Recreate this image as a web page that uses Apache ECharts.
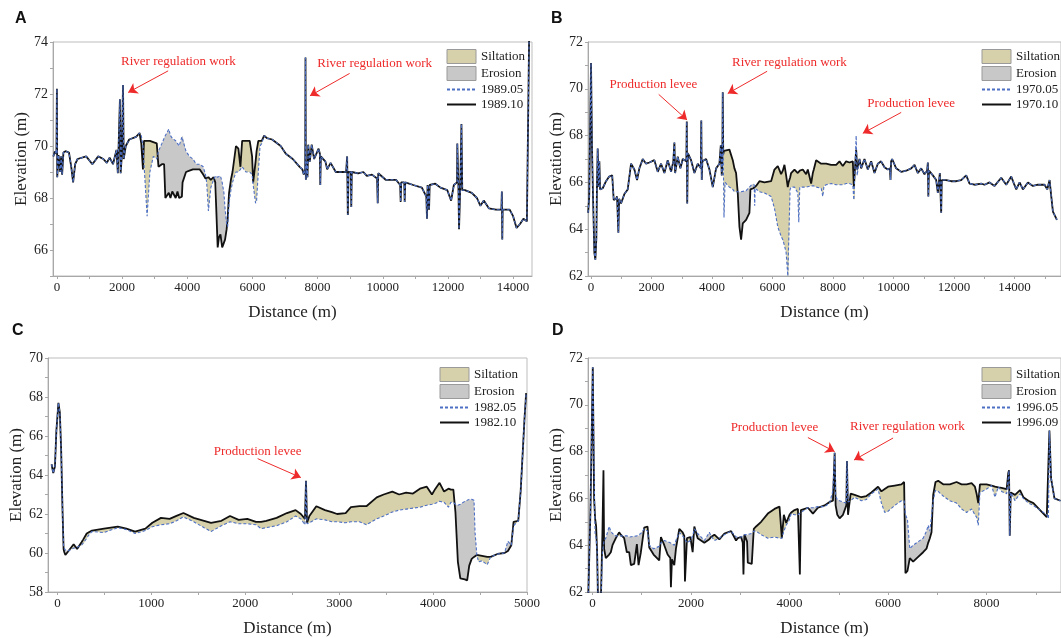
<!DOCTYPE html>
<html>
<head>
<meta charset="utf-8">
<title>Cross-section profiles</title>
<script src="https://cdn.jsdelivr.net/npm/echarts@6.0.0/dist/echarts.min.js"></script>
<style>
  html, body { margin: 0; padding: 0; background: #fff; }
  #chart { width: 1061px; height: 638px; }
</style>
</head>
<body>
<div id="chart"></div>
<script>
// ---- panel A : 1989.05 / 1989.10 ----
const distA = [
  -110,-60,-15,0,10,50,100,130,160,200,
  264,370,440,497,560,634,898,1088,1268,1426,
  1532,1617,1722,1828,1870,1934,1955,1986,2029,2050,
  2113,2219,2430,2536,2589,2641,2673,2768,2853,2958,
  3064,3117,3222,3290,3328,3434,3485,3540,3645,3700,
  3751,3835,3856,3962,4068,4174,4279,4385,4490,4560,
  4596,4649,4723,4808,4860,4892,4934,4975,5019,5072,
  5125,5160,5209,5240,5283,5340,5389,5495,5569,5632,
  5685,5800,5917,5990,6023,6097,6128,6181,6234,6287,
  6360,6445,6604,6868,7026,7238,7449,7533,7576,7620,
  7629,7640,7665,7690,7713,7760,7819,7893,8030,8070,
  8083,8100,8241,8294,8400,8558,8875,8907,8928,8950,
  9020,9034,9050,9245,9404,9510,9668,9826,9845,9862,
  10090,10407,10534,10550,10565,10660,10672,10690,10936,11200,
  11337,11358,11375,11421,11440,11612,11770,11981,12098,12182,
  12280,12288,12320,12341,12380,12415,12440,12520,12732,12890,
  12996,13101,13260,13472,13640,13655,13668,13680,13894,14000,
  14106,14212,14317,14423,14480,14500,14580
]
const elevA0589 = [
  69.6,69.8,69.7,72.2,68.8,69.65,69.0,69.6,68.9,69.75,
  69.8,69.75,69.2,68.6,69.3,69.5,69.6,69.3,69.6,69.5,
  69.35,69.55,69.3,69.85,68.95,71.8,68.95,69.5,72.35,69.5,
  70.0,70.25,70.35,70.5,70.4,70.0,69.3,67.3,69.0,69.6,
  69.5,69.8,70.1,70.3,70.4,70.65,70.4,70.3,70.2,70.1,
  70.0,70.35,70.4,69.8,69.6,69.5,69.3,69.3,69.2,68.9,
  68.6,67.5,68.4,68.7,68.85,68.85,68.8,68.8,68.85,68.6,
  68.2,67.6,67.0,66.9,67.8,68.3,68.6,69.0,69.0,69.1,
  69.2,69.0,69.0,68.9,68.5,67.8,67.9,69.0,70.0,70.1,
  70.4,70.3,70.25,70.0,69.7,69.5,69.2,69.1,68.9,69.1,
  73.4,68.7,69.4,68.8,70.05,69.4,70.05,69.5,69.9,69.7,
  68.5,69.6,69.4,69.1,69.35,69.0,69.0,69.6,67.35,69.0,
  69.0,67.65,69.0,68.95,69.0,68.85,68.9,68.75,67.8,68.95,
  68.7,68.7,68.5,67.85,68.6,68.6,67.85,68.6,68.5,68.4,
  68.05,67.2,68.5,67.55,68.5,68.55,68.4,68.3,67.9,68.5,
  68.6,70.1,68.6,66.8,68.5,70.85,68.3,68.3,68.2,68.0,
  67.7,67.9,67.6,67.55,67.55,68.25,66.4,67.55,67.55,67.3,
  66.85,67.0,67.2,67.1,67.1,75,75
]
const elevA1089 = [
  69.6,69.8,69.7,72.2,68.8,69.65,69.0,69.6,68.9,69.75,
  69.8,69.75,69.2,68.6,69.3,69.5,69.6,69.3,69.6,69.5,
  69.35,69.55,69.3,69.85,68.95,71.8,68.95,69.5,72.35,69.5,
  70.0,70.25,70.35,70.5,70.1,69.1,70.2,70.2,70.2,70.15,
  70.1,69.2,69.3,69.3,68.0,68.2,68.0,68.25,68.0,68.25,
  68.0,68.05,68.6,69.0,69.05,69.1,69.1,69.1,68.9,68.75,
  68.75,68.8,68.7,68.8,68.6,68.55,66.1,66.5,66.6,66.1,
  66.15,66.4,66.8,67.2,68.2,68.7,69.0,70.0,69.9,69.2,
  70.2,70.2,70.2,69.6,68.6,69.4,69.8,70.2,70.2,70.2,
  70.4,70.3,70.25,70.0,69.7,69.5,69.2,69.1,68.9,69.1,
  73.4,68.7,69.4,68.8,70.05,69.4,70.05,69.5,69.9,69.7,
  68.5,69.6,69.4,69.1,69.35,69.0,69.0,69.6,67.35,69.0,
  69.0,67.65,69.0,68.95,69.0,68.85,68.9,68.75,67.8,68.95,
  68.7,68.7,68.5,67.85,68.6,68.6,67.85,68.6,68.5,68.4,
  68.05,67.2,68.5,67.55,68.5,68.55,68.4,68.3,67.9,68.5,
  68.6,70.1,68.6,66.8,68.5,70.85,68.3,68.3,68.2,68.0,
  67.7,67.9,67.6,67.55,67.55,68.25,66.4,67.55,67.55,67.3,
  66.85,67.0,67.2,67.1,67.1,75,75
]

// ---- panel B : 1970.05 / 1970.10 ----
const distB = [
  -95,-60,-20,0,33,66,110,143,176,198,
  220,254,276,300,386,496,600,700,750,827,
  860,904,930,992,1102,1213,1323,1433,1521,1598,
  1709,1819,1929,2094,2205,2315,2425,2535,2646,2720,
  2756,2780,2866,2954,3032,3150,3165,3180,3200,3307,
  3418,3528,3630,3645,3660,3680,3803,3914,4024,4134,
  4244,4290,4321,4340,4354,4370,4395,4430,4575,4685,
  4740,4795,4850,4906,4961,5016,5126,5236,5269,5313,
  5368,5395,5410,5425,5456,5567,5732,5953,6063,6173,
  6283,6339,6394,6449,6504,6530,6580,6614,6725,6835,
  6868,6900,7000,7110,7166,7276,7331,7364,7441,7496,
  7607,7662,7700,7772,7937,8103,8213,8268,8323,8433,
  8543,8598,8654,8687,8720,8764,8797,8874,8929,9039,
  9149,9260,9370,9480,9590,9700,9811,9880,9899,9920,
  9954,9998,10086,10252,10417,10583,10693,10803,10913,11024,
  11110,11134,11150,11170,11299,11409,11464,11530,11552,11574,
  11595,11740,11905,12071,12236,12402,12512,12677,12898,13008,
  13174,13339,13560,13725,13890,13979,14056,14166,14276,14441,
  14607,14772,14992,15080,15158,15213,15268,15400
]
const elevB7005 = [
  64.7,65.4,65.4,71.1,67.4,65.4,63.0,62.7,63.6,66.0,
  67.45,65.8,66.9,65.7,65.75,66.05,66.25,66.3,65.25,65.3,
  65.4,63.85,65.3,65.1,65.5,65.7,66.8,66.55,66.1,66.6,
  67.0,66.8,66.85,66.95,66.45,66.8,66.4,66.95,66.45,66.9,
  67.7,66.4,67.1,66.6,67.0,66.9,68.6,65.1,67.25,66.95,
  66.4,66.8,66.6,68.65,66.1,66.9,67.0,66.55,65.8,66.6,
  66.8,67.6,66.3,66.8,69.85,67.2,64.5,66.0,65.8,65.7,
  65.6,65.6,65.6,65.6,65.6,65.6,65.65,65.8,65.85,65.9,
  65.95,65.9,65.0,65.75,65.75,65.6,65.55,65.4,64.9,64.1,
  63.7,63.55,63.3,63.0,62.0,62.0,65.7,65.8,65.8,65.55,
  64.3,65.8,65.8,65.8,65.8,65.85,65.85,65.85,65.8,65.8,
  65.75,65.4,65.85,65.9,65.95,65.9,65.9,65.9,65.9,65.95,
  65.95,65.95,65.9,65.25,65.3,68.0,66.3,67.0,66.6,67.0,
  66.55,66.9,66.4,66.8,66.9,66.65,66.55,66.6,66.1,66.9,
  67.0,67.0,66.6,66.45,66.5,66.6,66.75,66.4,66.6,66.35,
  66.5,66.85,65.4,66.5,66.3,66.1,65.55,66.4,66.45,64.7,
  66.1,66.1,66.05,66.05,66.1,66.3,65.95,65.9,65.95,65.9,
  66.0,65.85,66.2,65.9,66.25,65.95,65.7,66.0,65.7,66.0,
  65.85,65.9,65.9,65.7,66.1,65.4,64.75,64.4
]
const elevB7010 = [
  64.7,65.4,65.4,71.1,67.4,65.4,63.0,62.7,63.6,66.0,
  67.45,65.8,66.9,65.7,65.75,66.05,66.25,66.3,65.25,65.3,
  65.4,63.85,65.3,65.1,65.5,65.7,66.8,66.55,66.1,66.6,
  67.0,66.8,66.85,66.95,66.45,66.8,66.4,66.95,66.45,66.9,
  67.7,66.4,67.1,66.6,67.0,66.9,68.6,65.1,67.25,66.95,
  66.4,66.8,66.6,68.65,66.1,66.9,67.0,66.55,65.8,66.6,
  66.8,67.6,66.3,66.8,69.85,67.2,67.35,67.35,67.4,66.95,
  66.6,66.4,65.55,64.1,63.55,64.25,64.4,64.7,65.7,65.7,
  65.75,65.8,65.8,65.8,65.85,66.05,66.0,66.05,66.55,66.7,
  66.35,66.5,66.75,66.3,65.8,66.0,66.2,66.4,66.55,66.4,
  66.45,66.5,66.55,66.35,66.55,65.95,66.4,66.55,66.95,66.9,
  66.8,66.8,66.8,66.8,66.75,66.75,66.9,66.8,66.7,66.9,
  66.85,66.9,66.9,65.8,66.5,67.4,66.55,67.0,66.6,67.0,
  66.55,66.9,66.4,66.8,66.9,66.65,66.55,66.6,66.1,66.9,
  67.0,67.0,66.6,66.45,66.5,66.6,66.75,66.4,66.6,66.35,
  66.5,66.85,65.4,66.5,66.3,66.1,65.55,66.4,66.45,64.7,
  66.1,66.1,66.05,66.05,66.1,66.3,65.95,65.9,65.95,65.9,
  66.0,65.85,66.2,65.9,66.25,65.95,65.7,66.0,65.7,66.0,
  65.85,65.9,65.9,65.7,66.1,65.4,64.75,64.4
]

// ---- panel C : 1982.05 / 1982.10 ----
const distC = [
  -62,-44,-26,-11,0,11,26,40,55,66,
  73,85,110,173,210,257,276,312,331,368,
  496,643,735,827,937,1011,1103,1195,1268,1342,
  1452,1562,1636,1746,1838,1930,2022,2114,2169,2224,
  2334,2444,2536,2592,2636,2647,2658,2683,2757,2849,
  2922,2978,3069,3125,3216,3290,3400,3474,3566,3639,
  3713,3786,3860,3933,3988,4025,4069,4117,4164,4190,
  4216,4238,4264,4290,4338,4363,4385,4411,4436,4447,
  4466,4484,4521,4576,4613,4686,4760,4797,4833,4857,
  4907,4933,4951,4973,4991
]
const elevC8205 = [
  64.55,64.1,64.45,66.25,66.3,67.7,67.2,65.3,62.1,60.3,
  60.2,60.15,60.1,60.25,60.3,60.4,60.45,60.75,60.9,61.1,
  61.05,61.3,61.2,61.0,61.15,61.35,61.45,61.5,61.65,61.85,
  61.6,61.3,61.1,61.4,61.6,61.5,61.5,61.45,61.25,61.3,
  61.4,61.6,61.9,61.75,61.45,63.7,61.5,61.55,61.75,61.7,
  61.6,61.6,61.55,61.6,61.6,61.45,61.75,61.9,62.1,62.2,
  62.25,62.3,62.35,62.45,62.5,62.55,62.65,62.6,62.35,62.6,
  62.6,62.5,62.45,62.5,62.65,62.7,62.75,62.75,62.7,61.05,
  59.9,59.55,59.6,59.4,59.8,59.95,60.0,60.6,60.4,61.4,
  61.65,63.2,63.25,66.85,68.2
]
const elevC8210 = [
  64.55,64.1,64.45,66.25,66.3,67.7,67.2,65.3,62.1,60.2,
  60.05,59.9,60.05,60.45,60.2,60.55,60.7,61.0,61.1,61.15,
  61.25,61.35,61.25,61.1,61.25,61.55,61.8,61.75,61.9,62.05,
  61.8,61.65,61.55,61.65,61.9,61.7,61.75,61.6,61.6,61.65,
  61.8,62.05,62.2,62.0,61.75,63.7,61.55,61.9,62.4,62.2,
  62.1,62.0,62.05,62.35,62.4,62.4,62.85,63.0,63.15,63.0,
  63.1,63.05,63.3,63.4,63.0,63.3,63.6,63.15,63.3,63.25,
  63.25,62.1,59.55,58.7,58.65,58.6,59.35,59.7,59.8,59.85,
  59.9,59.9,59.85,59.8,59.8,59.95,60.0,60.1,60.4,61.6,
  61.65,63.2,63.25,66.85,68.2
]

// ---- panel D : 1996.05 / 1996.09 ----
const distD = [
  -88,-60,-40,-20,7,34,54,75,95,115,
  170,203,224,237,271,339,373,407,475,542,
  576,644,698,746,780,848,902,936,983,1051,
  1119,1153,1241,1356,1390,1458,1526,1580,1593,1614,
  1661,1695,1763,1831,1864,1878,1919,1987,2034,2068,
  2136,2271,2373,2407,2475,2576,2678,2814,2915,2949,
  3017,3051,3065,3085,3139,3153,3234,3275,3322,3424,
  3560,3695,3797,3844,3885,3932,4000,4034,4102,4170,
  4190,4210,4231,4373,4475,4577,4712,4814,4882,4916,
  4936,4970,5017,5085,5153,5166,5187,5241,5322,5458,
  5560,5661,5797,5865,5932,6000,6136,6272,6326,6353,
  6394,6441,6509,6611,6712,6780,6814,6848,6882,6916,
  6963,7017,7119,7153,7254,7390,7492,7594,7695,7763,
  7797,7831,7865,8000,8102,8170,8238,8305,8407,8441,
  8455,8470,8490,8577,8678,8746,8848,8950,9085,9221,
  9255,9275,9309,9377,9500
]
const elevD9605 = [
  61.5,61.5,65.5,65.55,71.6,67.1,64.5,64.3,63.7,61.5,
  61.5,63.7,64.0,64.2,64.3,64.8,64.6,64.5,64.4,64.4,
  64.35,64.4,64.4,64.35,64.35,64.38,64.4,64.4,64.5,64.7,
  64.6,64.0,63.85,63.95,64.1,64.2,64.15,64.1,64.1,64.05,
  64.0,64.2,64.55,64.4,64.3,64.25,64.1,64.2,64.4,64.7,
  64.5,64.2,64.55,64.4,64.2,64.3,64.45,64.6,64.35,64.3,
  64.35,64.4,64.4,64.45,64.45,64.45,64.5,64.6,64.6,64.45,
  64.3,64.35,64.3,64.3,64.6,64.85,65.1,65.35,65.3,65.3,
  65.35,65.35,65.4,65.6,65.6,65.65,65.65,65.8,66.35,67.95,
  66.1,65.95,65.9,65.85,65.8,67.6,65.85,65.9,66.05,65.9,
  65.95,66.2,66.4,65.8,65.4,65.45,65.7,65.9,65.9,65.3,
  65.1,63.85,64.0,64.15,64.3,64.6,64.85,64.6,64.55,65.9,
  66.35,66.3,66.1,66.05,65.9,65.8,65.55,65.4,65.55,65.3,
  65.2,64.85,66.25,66.4,66.55,66.05,66.5,66.3,66.2,66.9,
  67.2,64.4,66.25,65.9,66.2,66.0,65.8,65.7,65.5,65.3,
  65.15,68.9,66.85,66.0,65.9
]
const elevD9609 = [
  61.5,61.5,65.5,65.55,71.6,66.0,65.15,64.8,63.7,61.5,
  61.5,64.55,67.2,63.85,63.45,63.6,63.7,64.0,64.3,64.55,
  64.45,64.3,63.7,63.7,63.15,63.2,64.05,63.15,63.7,64.75,
  64.8,63.9,63.6,63.35,64.35,64.0,63.6,63.45,62.2,63.4,
  63.15,63.85,64.7,64.55,64.4,62.45,64.3,64.35,63.7,64.8,
  64.3,64.1,64.25,64.35,64.45,64.25,64.5,64.6,64.2,64.3,
  64.35,64.1,62.75,64.45,64.15,63.25,63.2,64.7,64.8,65.0,
  65.35,65.55,65.65,64.3,65.3,64.95,65.3,65.4,65.5,65.55,
  65.55,62.75,65.5,65.6,65.35,65.6,65.7,65.85,65.9,67.95,
  65.7,65.3,65.15,65.3,65.7,67.6,65.3,66.2,66.15,66.05,
  66.1,66.25,66.5,66.3,66.4,66.5,66.55,66.6,66.7,62.8,
  62.9,63.45,63.3,63.5,63.7,63.85,64.1,64.3,64.55,66.15,
  66.7,66.75,66.6,66.55,66.6,66.7,66.6,66.6,66.65,66.5,
  66.2,65.8,66.6,66.6,66.55,66.5,66.47,66.45,66.4,67.1,
  67.2,64.4,66.25,66.15,66.35,66.05,65.9,65.8,65.5,65.2,
  65.15,68.9,66.85,66.0,65.9
]

// ---- axis ticks / labels ----
const xTicksA = [0,1000,2000,3000,4000,5000,6000,7000,8000,9000,10000,11000,12000,13000,14000]
const xLabelsA = [0,2000,4000,6000,8000,10000,12000,14000]
const yTicksA = [65,66,67,68,69,70,71,72,73,74]
const yLabelsA = [66,68,70,72,74]
const xTicksB = [0,1000,2000,3000,4000,5000,6000,7000,8000,9000,10000,11000,12000,13000,14000,15000]
const xLabelsB = [0,2000,4000,6000,8000,10000,12000,14000]
const yTicksB = [62,63,64,65,66,67,68,69,70,71,72]
const yLabelsB = [62,64,66,68,70,72]
const xTicksC = [0,500,1000,1500,2000,2500,3000,3500,4000,4500,5000]
const xLabelsC = [0,1000,2000,3000,4000,5000]
const yTicksC = [58,59,60,61,62,63,64,65,66,67,68,69,70]
const yLabelsC = [58,60,62,64,66,68,70]
const xTicksD = [0,1000,2000,3000,4000,5000,6000,7000,8000,9000]
const xLabelsD = [0,2000,4000,6000,8000]
const yTicksD = [62,63,64,65,66,67,68,69,70,71,72]
const yLabelsD = [62,64,66,68,70,72]

// ---- annotations (data coordinates) ----
const notesA = [
  { text: 'River regulation work', at: [3730, 73.23], from: [3413, 72.89], to: [2187, 72.06] },
  { text: 'River regulation work', at: [9753, 73.17], from: [8982, 72.79], to: [7766, 71.93] }
]
const notesB = [
  { text: 'Production levee', at: [2061, 70.18], from: [2238, 69.76], to: [3175, 68.67] },
  { text: 'River regulation work', at: [6559, 71.12], from: [5821, 70.75], to: [4520, 69.8] },
  { text: 'Production levee', at: [10583, 69.35], from: [10252, 68.99], to: [8984, 68.1] }
]
const notesC = [
  { text: 'Production levee', at: [2132, 65.22], from: [2132, 64.84], to: [2592, 63.87] }
]
const notesD = [
  { text: 'Production levee', at: [3695, 69.03], from: [4373, 68.6], to: [4916, 68.0] },
  { text: 'River regulation work', at: [6394, 69.07], from: [6102, 68.58], to: [5309, 67.64] }
]

const SILT = '#d6d1aa'
const ERO = '#c8c8c8'
const RED = '#ee2a2a'
const SERIF = 'Liberation Serif'

const panels = [
  { title: 'A', dist: distA, before: elevA0589, after: elevA1089, names: ['1989.05', '1989.10'],
    grid: { left: 53, top: 42, width: 479, height: 234 }, xRange: [-120, 14580], yRange: [65, 74],
    xTicks: xTicksA, xLabels: xLabelsA, yTicks: yTicksA, yLabels: yLabelsA,
    legend: { left: 446, top: 49 }, titlePos: { left: 15, top: 11 }, notes: notesA },
  { title: 'B', dist: distB, before: elevB7005, after: elevB7010, names: ['1970.05', '1970.10'],
    grid: { left: 588, top: 42, width: 480, height: 234 }, xRange: [-100, 15535], yRange: [62, 72],
    xTicks: xTicksB, xLabels: xLabelsB, yTicks: yTicksB, yLabels: yLabelsB,
    legend: { left: 981, top: 49 }, titlePos: { left: 551, top: 11 }, notes: notesB },
  { title: 'C', dist: distC, before: elevC8205, after: elevC8210, names: ['1982.05', '1982.10'],
    grid: { left: 48, top: 358, width: 479, height: 235 }, xRange: [-100, 5000], yRange: [58, 70],
    xTicks: xTicksC, xLabels: xLabelsC, yTicks: yTicksC, yLabels: yLabelsC,
    legend: { left: 439, top: 367 }, titlePos: { left: 12, top: 323 }, notes: notesC },
  { title: 'D', dist: distD, before: elevD9605, after: elevD9609, names: ['1996.05', '1996.09'],
    grid: { left: 588, top: 358, width: 480, height: 235 }, xRange: [-90, 9510], yRange: [62, 72],
    xTicks: xTicksD, xLabels: xLabelsD, yTicks: yTicksD, yLabels: yLabelsD,
    legend: { left: 981, top: 367 }, titlePos: { left: 552, top: 323 }, notes: notesD }
]

panels.forEach(p => {
  if (p.dist.length !== p.before.length || p.dist.length !== p.after.length) {
    console.warn('length mismatch in panel', p.title, p.dist.length, p.before.length, p.after.length)
  }
})

const zip = (xs, ys) => xs.map((x, i) => [x, ys[i]])

// closed outlines of the regions where (after - before) * sign > 0
function bandPolygons(dist, before, after, sign) {
  const polys = []
  let top = null
  let bot = null
  const cross = (i, dp, d) => {
    const t = dp / (dp - d)
    return [dist[i - 1] + t * (dist[i] - dist[i - 1]), before[i - 1] + t * (before[i] - before[i - 1])]
  }
  for (let i = 0; i < dist.length; i++) {
    const d = (after[i] - before[i]) * sign
    if (d > 0) {
      if (!top) {
        top = []
        bot = []
        if (i > 0) top.push(cross(i, (after[i - 1] - before[i - 1]) * sign, d))
      }
      top.push([dist[i], after[i]])
      bot.push([dist[i], before[i]])
    } else if (top) {
      top.push(cross(i, (after[i - 1] - before[i - 1]) * sign, d))
      polys.push(top.concat(bot.reverse()))
      top = bot = null
    }
  }
  if (top) polys.push(top.concat(bot.reverse()))
  return polys
}

function bandSeries(p, gi, sign, name, color) {
  const polys = bandPolygons(p.dist, p.before, p.after, sign)
  return {
    type: 'custom',
    name,
    xAxisIndex: gi,
    yAxisIndex: gi,
    clip: true,
    silent: true,
    z: 1,
    itemStyle: { color },
    data: [[p.dist[0], p.before[0]]],
    renderItem(params, api) {
      return {
        type: 'group',
        children: polys.map(poly => ({
          type: 'polygon',
          shape: { points: poly.map(q => api.coord(q)) },
          style: { fill: color }
        }))
      }
    }
  }
}

const option = {
  animation: false,
  backgroundColor: '#fff',
  title: [],
  grid: [],
  xAxis: [],
  yAxis: [],
  legend: [],
  series: []
}

panels.forEach((p, gi) => {
  option.title.push({
    text: p.title, left: p.titlePos.left, top: p.titlePos.top, padding: 0,
    textStyle: { fontFamily: 'Liberation Sans', fontWeight: 'bold', fontSize: 16, color: '#111' }
  })
  option.grid.push({
    ...p.grid, show: true, borderColor: '#bdbdbd', borderWidth: 1, backgroundColor: 'transparent'
  })
  option.xAxis.push({
    type: 'value', gridIndex: gi, min: p.xRange[0], max: p.xRange[1],
    name: 'Distance (m)', nameLocation: 'middle', nameGap: 28,
    nameTextStyle: { fontFamily: SERIF, fontSize: 17, color: '#222' },
    axisLine: { show: true, onZero: false, lineStyle: { color: '#a8a8a8', width: 1 } },
    axisTick: { show: true, length: 3, customValues: p.xTicks, lineStyle: { color: '#a8a8a8' } },
    axisLabel: {
      customValues: p.xLabels, margin: 5, fontFamily: SERIF, fontSize: 13, color: '#222',
      formatter: v => String(v)
    },
    splitLine: { show: false }
  })
  option.yAxis.push({
    type: 'value', gridIndex: gi, min: p.yRange[0], max: p.yRange[1],
    name: 'Elevation (m)', nameLocation: 'middle', nameGap: 22, nameRotate: 90,
    nameTextStyle: { fontFamily: SERIF, fontSize: 17, color: '#222' },
    axisLine: { show: true, onZero: false, lineStyle: { color: '#a8a8a8', width: 1 } },
    axisTick: { show: true, length: 3, customValues: p.yTicks, lineStyle: { color: '#a8a8a8' } },
    axisLabel: {
      customValues: p.yLabels, margin: 5, fontFamily: SERIF, fontSize: 14, color: '#222',
      formatter: v => String(v)
    },
    splitLine: { show: false }
  })
  option.legend.push({
    left: p.legend.left, top: p.legend.top, orient: 'vertical',
    itemWidth: 29, itemHeight: 14, itemGap: 2, padding: 0, selectedMode: false,
    textStyle: { fontFamily: SERIF, fontSize: 13, color: '#222' },
    data: [
      { name: 'Siltation', icon: 'rect', itemStyle: { color: SILT, borderColor: '#9a9a9a', borderWidth: 1 } },
      { name: 'Erosion', icon: 'rect', itemStyle: { color: ERO, borderColor: '#9a9a9a', borderWidth: 1 } },
      { name: p.names[0], itemStyle: { opacity: 0 } },
      { name: p.names[1], itemStyle: { opacity: 0 } }
    ]
  })
  option.series.push(bandSeries(p, gi, 1, 'Siltation', SILT))
  option.series.push(bandSeries(p, gi, -1, 'Erosion', ERO))
  option.series.push({
    type: 'line', name: p.names[1], xAxisIndex: gi, yAxisIndex: gi,
    data: zip(p.dist, p.after), symbol: 'none', clip: true, z: 3,
    lineStyle: { color: '#111', width: 1.8 }, itemStyle: { color: '#111' },
    markLine: {
      silent: true, symbol: ['none', 'arrow'], symbolSize: 9,
      lineStyle: { color: RED, width: 1, type: 'solid' }, label: { show: false },
      data: p.notes.map(n => [{ coord: n.from }, { coord: n.to }])
    },
    markPoint: {
      silent: true, symbol: 'circle', symbolSize: 0,
      label: { show: true, position: 'inside', formatter: '{b}', color: RED, fontFamily: SERIF, fontSize: 13 },
      data: p.notes.map(n => ({ name: n.text, coord: n.at }))
    }
  })
  option.series.push({
    type: 'line', name: p.names[0], xAxisIndex: gi, yAxisIndex: gi,
    data: zip(p.dist, p.before), symbol: 'none', clip: true, z: 4,
    lineStyle: { color: '#4d6fc4', width: 1.1, type: [3, 2] }, itemStyle: { color: '#4d6fc4' }
  })
})

const chart = echarts.init(document.getElementById('chart'), null, { renderer: 'canvas' })
chart.setOption(option)
</script>
</body>
</html>
